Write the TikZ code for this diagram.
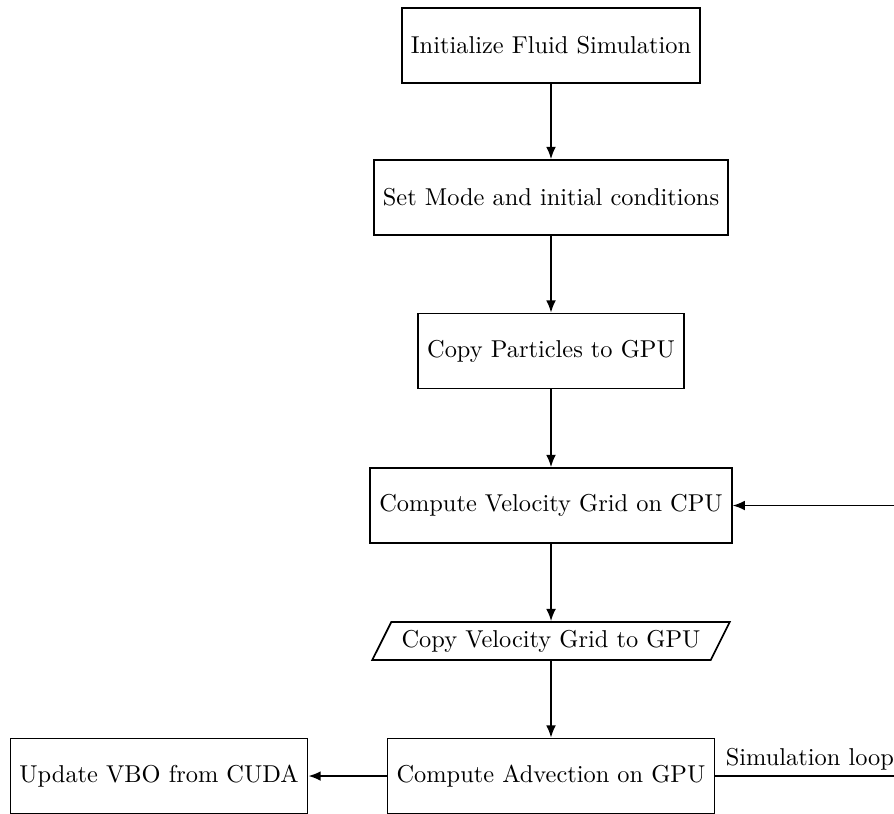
\documentclass[tikz,border=0pt]{standalone}
\usetikzlibrary{arrows.meta,shapes.geometric}
\begin{document}
\begin{tikzpicture}[x=0.41pt,y=-0.41pt,
  every path/.style={line width=0.7pt},
  flowbox/.style={draw, line width=0.7pt, rectangle, minimum height=75*0.41pt, inner xsep=3.7pt, font=\fontsize{10}{12}\selectfont},
  iobox/.style={draw, line width=0.7pt, trapezium, trapezium left angle=63.4, trapezium right angle=116.6, minimum height=38*0.41pt, inner xsep=-6.2pt, inner ysep=2pt, font=\fontsize{10}{12}\selectfont},
  flow/.style={-{Latex[length=5pt,width=4pt]}, line width=0.7pt}]
\useasboundingbox (0,0) rectangle (894,813);

\node[flowbox] (init) at (551,45.5) {Initialize Fluid Simulation};
\node[flowbox] (mode) at (551,197.5) {Set Mode and initial conditions};
\node[flowbox] (copy) at (551,351) {Copy Particles to GPU};
\node[flowbox] (vel)  at (551,505.5) {Compute Velocity Grid on CPU};
\node[iobox]   (grid) at (551,641) {Copy Velocity Grid to GPU};
\node[flowbox] (adv)  at (551,776) {Compute Advection on GPU};
\node[flowbox] (vbo)  at (159,776) {Update VBO from CUDA};

\draw[flow] (init) -- (mode);
\draw[flow] (mode) -- (copy);
\draw[flow] (copy) -- (vel);
\draw[flow] (vel) -- (grid);
\draw[flow] (grid) -- (adv);
\draw[flow] (adv) -- (vbo);

% simulation loop back to the velocity grid step
\coordinate (loopcorner) at (940,776);
\draw[flow] (adv.east) -- (loopcorner) |- (vel.east);
\node[anchor=south west, inner xsep=4pt, inner ysep=2pt, font=\fontsize{10}{12}\selectfont] (looplabel) at (adv.east) {Simulation loop};
\end{tikzpicture}
\end{document}
